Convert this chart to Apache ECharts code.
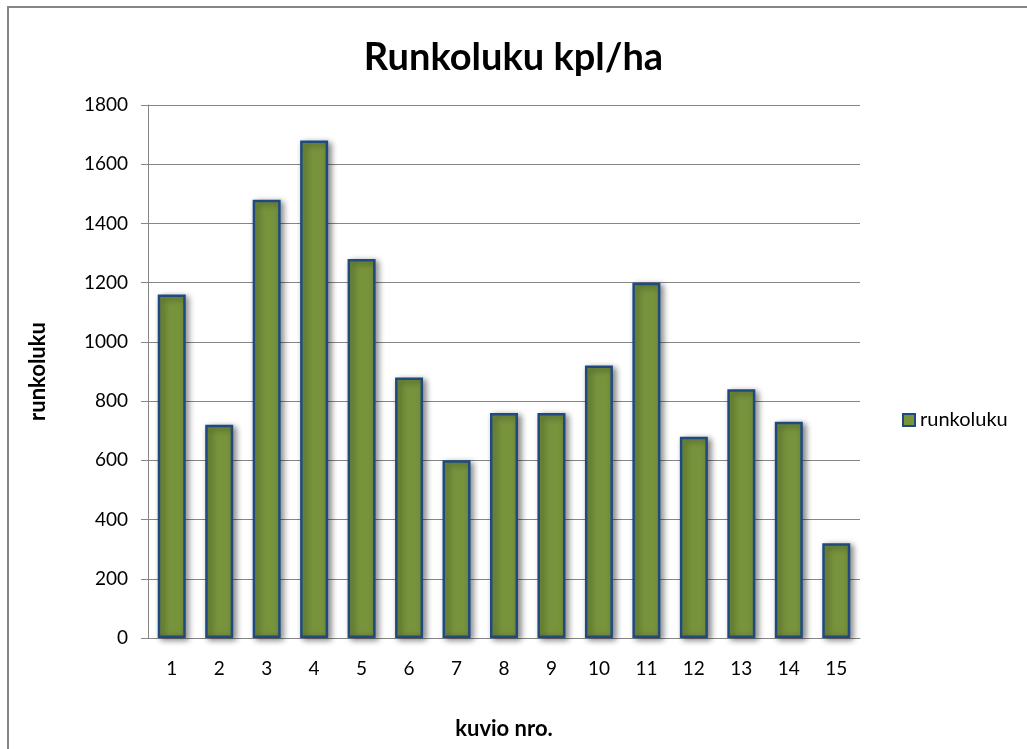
<!DOCTYPE html>
<html>
<head>
<meta charset="utf-8">
<script src="https://cdn.jsdelivr.net/npm/echarts@6/dist/echarts.min.js"></script>
<style>
  html, body { margin: 0; padding: 0; background: #fff; }
  #chart { width: 1027px; height: 749px; }
</style>
</head>
<body>
<div id="chart"></div>
<script>
// kuviot 1..15
const categories = ['1', '2', '3', '4', '5', '6', '7', '8', '9', '10', '11', '12', '13', '14', '15']
const runkoluku = [1160, 720, 1480, 1680, 1280, 880, 600, 760, 760, 920, 1200, 680, 840, 730, 320]
const yMax = 1800
const yStep = 200

const font = 'Lato, "Open Sans", sans-serif'
const myChart = echarts.init(document.getElementById('chart'))
myChart.setOption({
  animation: false,
  backgroundColor: '#fff',
  textStyle: { fontFamily: font },
  graphic: [
    {
      type: 'rect',
      shape: { x: 8, y: 7, width: 1100, height: 800 },
      style: { fill: 'none', stroke: '#868686', lineWidth: 2 },
      silent: true
    }
  ],
  title: {
    text: 'Runkoluku kpl/ha',
    left: 'center',
    top: 34,
    textStyle: { fontFamily: font, fontSize: 38, fontWeight: 'bold', color: '#000' }
  },
  legend: {
    orient: 'vertical',
    left: 897,
    top: 405,
    itemWidth: 12,
    itemHeight: 12,
    itemGap: 6,
    icon: 'rect',
    data: ['runkoluku'],
    textStyle: { fontFamily: font, fontSize: 20, color: '#000' }
  },
  grid: { left: 148, right: 167, top: 105, bottom: 111, outerBoundsMode: 'none' },
  xAxis: {
    type: 'category',
    data: categories,
    name: 'kuvio nro.',
    nameLocation: 'middle',
    nameGap: 80,
    nameTextStyle: { fontFamily: font, fontSize: 22, fontWeight: 'bold', color: '#000' },
    axisLine: { lineStyle: { color: '#868686', width: 1 } },
    axisTick: { show: false },
    axisLabel: { fontFamily: font, fontSize: 19, color: '#000', margin: 21 }
  },
  yAxis: {
    type: 'value',
    min: 0,
    max: yMax,
    interval: yStep,
    name: 'runkoluku',
    nameLocation: 'middle',
    nameGap: 99,
    nameTextStyle: { fontFamily: font, fontSize: 22, fontWeight: 'bold', color: '#000' },
    axisLine: { show: true, lineStyle: { color: '#868686', width: 1 } },
    axisTick: { show: true, length: 7, lineStyle: { color: '#868686' } },
    axisLabel: { fontFamily: font, fontSize: 19, color: '#000', margin: 20, formatter: v => String(v) },
    splitLine: { lineStyle: { color: '#868686', width: 1 } }
  },
  series: [
    {
      name: 'runkoluku',
      type: 'bar',
      data: runkoluku,
      barWidth: '59%',
      itemStyle: {
        color: '#77933C',
        borderColor: '#1F4A80',
        borderWidth: 2.5,
        shadowColor: 'rgba(0,0,0,0.45)',
        shadowBlur: 6,
        shadowOffsetX: 3,
        shadowOffsetY: 2
      }
    }
  ]
})
</script>
</body>
</html>
